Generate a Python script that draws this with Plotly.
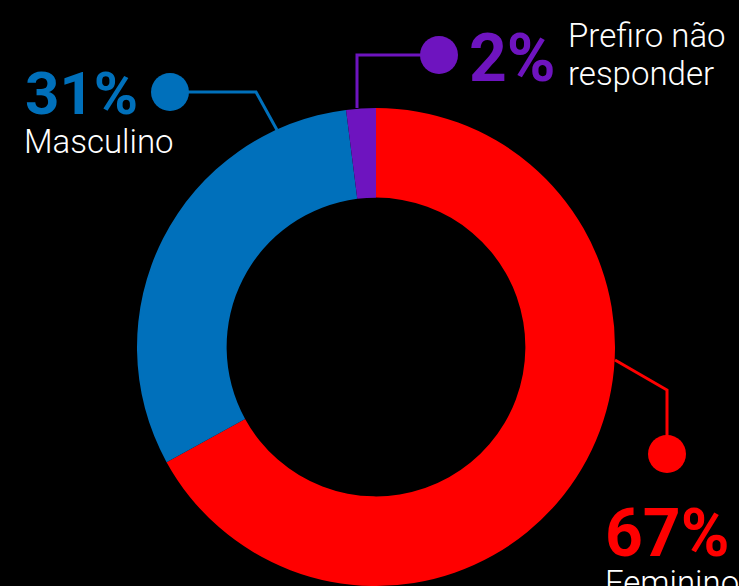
import plotly.graph_objects as go

# Data
categories = ["Feminino", "Masculino", "Prefiro não responder"]
values = [67, 31, 2]
pct_labels = ["67%", "31%", "2%"]
name_lines = [["Feminino"], ["Masculino"], ["Prefiro não", "responder"]]

colors = ["#FF0000", "#0070BB", "#6E14BF"]

W, H = 739, 586

fig = go.Figure()

fig.add_trace(go.Pie(
    labels=categories,
    values=values,
    marker=dict(colors=colors, line=dict(width=0)),
    hole=0.625,
    sort=False,
    direction="clockwise",
    rotation=0,
    textinfo="none",
    hoverinfo="label+percent",
    showlegend=False,
    domain=dict(x=[136 / W, 616 / W], y=[0, 478 / H]),
))

# Leader lines and dots (pixel coordinates on hidden overlay axes)
leaders = [
    ([615, 667, 667], [360, 390, 454], colors[0]),
    ([277, 256, 170], [130, 92, 92], colors[1]),
    ([357, 357, 439], [108, 55, 55], colors[2]),
]
for xs, ys, c in leaders:
    fig.add_trace(go.Scatter(
        x=xs, y=ys, mode="lines", line=dict(color=c, width=3),
        hoverinfo="skip", showlegend=False))
    fig.add_trace(go.Scatter(
        x=[xs[-1]], y=[ys[-1]], mode="markers",
        marker=dict(color=c, size=38, line=dict(width=0)),
        hoverinfo="skip", showlegend=False))

fam = "Roboto"

# percentage labels
pct_pos = [(603, 533, 66), (23, 93, 60), (467, 58, 66)]
for (x, y, s), t, c in zip(pct_pos, pct_labels, colors):
    fig.add_annotation(
        x=x, y=y, xref="x", yref="y", text=t, showarrow=False,
        xanchor="left", yanchor="middle",
        font=dict(family=fam, size=s, color=c, weight=700),
    )

# category name labels (one annotation per line)
name_pos = [(603, [582]), (22, [141.5]), (566, [35.5, 73.5])]
for (x, ys), lines in zip(name_pos, name_lines):
    for y, t in zip(ys, lines):
        fig.add_annotation(
            x=x, y=y, xref="x", yref="y", text=t, showarrow=False,
            xanchor="left", yanchor="middle",
            font=dict(family=fam, size=33, color="white", weight=300),
        )

fig.update_layout(
    width=W, height=H,
    margin=dict(l=0, r=0, t=0, b=0),
    paper_bgcolor="black", plot_bgcolor="rgba(0,0,0,0)",
    xaxis=dict(range=[0, W], visible=False, fixedrange=True),
    yaxis=dict(range=[H, 0], visible=False, fixedrange=True),
    showlegend=False,
)

fig.write_html(
    "out.html",
    config={"displayModeBar": False},
    post_script="document.body.style.margin='0';document.body.style.background='black';",
)
